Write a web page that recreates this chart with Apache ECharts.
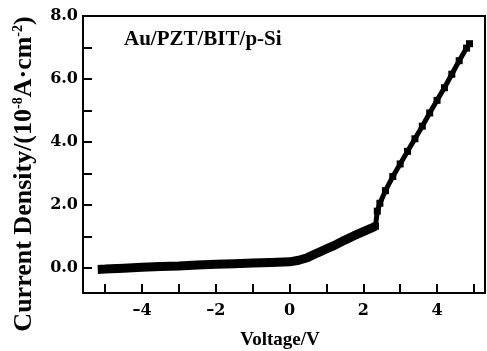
<!DOCTYPE html>
<html>
<head>
<meta charset="utf-8">
<script src="https://cdn.jsdelivr.net/npm/echarts@6/dist/echarts.min.js"></script>
<style>
  html, body { margin: 0; padding: 0; background: #fff; }
  #chart { width: 487px; height: 351px; }
</style>
</head>
<body>
<div id="chart"></div>
<script>
// low-voltage part of the J-V curve (thick band)
const voltLow = [-5.2, -5.0, -4.5, -4.0, -3.5, -3.0, -2.5, -2.0, -1.5, -1.0, -0.5, 0.0, 0.25, 0.5, 0.75, 1.0, 1.25, 1.5, 1.75, 2.0, 2.2, 2.33];
const currLow = [-0.05, -0.04, -0.01, 0.02, 0.04, 0.06, 0.09, 0.11, 0.13, 0.15, 0.17, 0.19, 0.24, 0.33, 0.47, 0.6, 0.73, 0.88, 1.02, 1.15, 1.25, 1.32];
// steep part after the jump
const voltHigh = [2.33, 2.38, 2.45, 2.6, 2.8, 3.0, 3.2, 3.4, 3.6, 3.8, 4.0, 4.2, 4.4, 4.6, 4.8, 4.88];
const currHigh = [1.32, 1.8, 2.05, 2.45, 2.9, 3.3, 3.7, 4.1, 4.5, 4.92, 5.32, 5.72, 6.15, 6.58, 6.98, 7.12];

const xTicks = [-5, -4, -3, -2, -1, 0, 1, 2, 3, 4, 5];
const xLabels = [-4, -2, 0, 2, 4];
const yTicks = [0, 1, 2, 3, 4, 5, 6, 7, 8];
const yLabels = [0, 2, 4, 6, 8];

const serif = 'Liberation Serif';
const tickFont = 'DejaVu Serif';

const chart = echarts.init(document.getElementById('chart'));

const lowData = voltLow.map((v, i) => [v, currLow[i]]);
const highData = voltHigh.map((v, i) => [v, currHigh[i]]);

const option = {
  animation: false,
  title: {
    text: 'Au/PZT/BIT/p-Si',
    left: 124,
    top: 29,
    padding: 0,
    textStyle: { fontFamily: serif, fontWeight: 'bold', fontSize: 21, color: '#000' }
  },
  graphic: [{
    type: 'text',
    x: 24,
    y: 174,
    rotation: Math.PI / 2,
    style: {
      text: 'Current Density/(10{sup|-8}A·cm{sup|-2})',
      fontFamily: serif,
      fontWeight: 'bold',
      fontSize: 26,
      fill: '#000',
      align: 'center',
      verticalAlign: 'middle',
      rich: {
        sup: { fontFamily: serif, fontWeight: 'bold', fontSize: 14, verticalAlign: 'top', padding: [0, 0, 11, 0] }
      }
    }
  }],
  grid: {
    left: 83,
    right: 2,
    top: 16,
    bottom: 58,
    outerBoundsMode: 'none',
    containLabel: false,
    show: true,
    borderColor: '#000',
    borderWidth: 2
  },
  xAxis: {
    type: 'value',
    min: -5.6,
    max: 5.3,
    name: 'Voltage/V',
    nameLocation: 'middle',
    nameGap: 38,
    nameTextStyle: { fontFamily: serif, fontWeight: 'bold', fontSize: 19, color: '#000', padding: [0, 8, 0, 0] },
    axisLine: { onZero: false, lineStyle: { color: '#000', width: 2 } },
    axisTick: { inside: true, length: 9, lineStyle: { width: 2, color: '#000' }, customValues: xTicks },
    axisLabel: {
      customValues: xLabels,
      margin: 10,
      fontFamily: tickFont,
      fontWeight: 'bold',
      fontSize: 16,
      color: '#000',
      formatter: v => (v < 0 ? '–' + Math.abs(v) : String(v))
    },
    splitLine: { show: false }
  },
  yAxis: {
    type: 'value',
    min: -0.8,
    max: 8,
    axisLine: { onZero: false, lineStyle: { color: '#000', width: 2 } },
    axisTick: { inside: true, length: 9, lineStyle: { width: 2, color: '#000' }, customValues: yTicks },
    axisLabel: {
      customValues: yLabels,
      margin: 5,
      fontFamily: tickFont,
      fontWeight: 'bold',
      fontSize: 16,
      color: '#000',
      formatter: v => v.toFixed(1)
    },
    splitLine: { show: false }
  },
  series: [
    {
      type: 'line',
      data: lowData,
      showSymbol: false,
      lineStyle: { color: '#000', width: 9 },
      itemStyle: { color: '#000' }
    },
    {
      type: 'line',
      data: highData,
      symbol: 'rect',
      symbolSize: 7,
      lineStyle: { color: '#000', width: 5 },
      itemStyle: { color: '#000' }
    }
  ]
};

chart.setOption(option);
</script>
</body>
</html>
